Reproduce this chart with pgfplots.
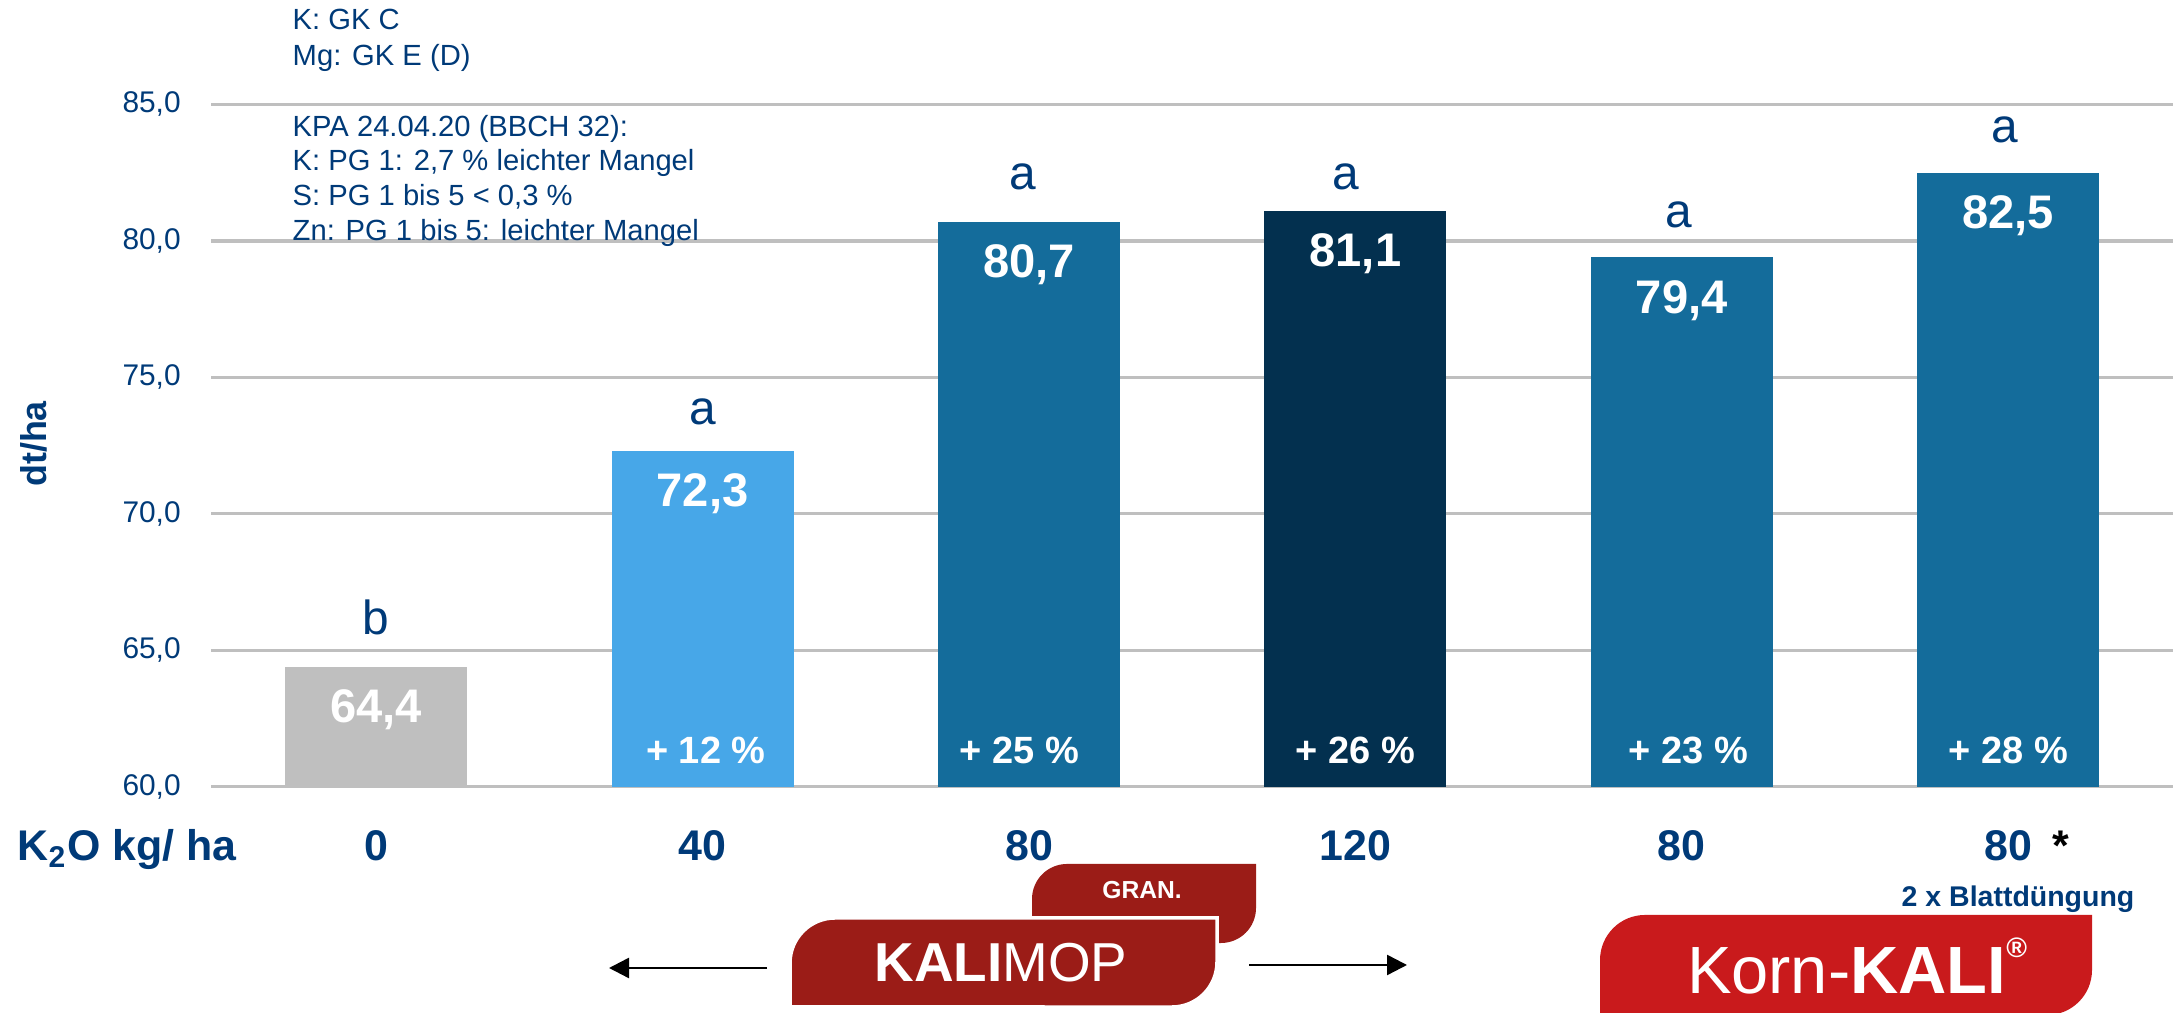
\documentclass[border=0pt]{standalone}
\usepackage{pgfplots}
\pgfplotsset{compat=1.18}
\usepackage{fontspec}
\setmainfont{Liberation Sans}
\usetikzlibrary{arrows.meta}
\definecolor{navy}{HTML}{003A78}
\definecolor{gridgray}{HTML}{BFBFBF}
\definecolor{barlight}{HTML}{47A7E8}
\definecolor{barmid}{HTML}{146C9B}
\definecolor{bardark}{HTML}{03304F}
\definecolor{mopred}{HTML}{9B1C17}
\definecolor{kornred}{HTML}{C91A1C}
\newcommand\fs[1]{\fontsize{#1}{#1}\selectfont}
\pgfplotsset{
  vals/.style={ybar, bar width=1.82cm, bar shift=0pt, draw=none,
    nodes near coords={\pgfmathprintnumber[fixed,fixed zerofill,precision=1,use comma,assume math mode=true]{\pgfplotspointmeta}},
    every node near coord/.append style={anchor=center, yshift=-0.43cm, text=white, font=\bfseries\fs{13.4}}},
  notes/.style={draw=none, mark=none, nodes near coords, point meta=explicit symbolic},
}
\begin{document}
\begin{tikzpicture}[x=0.01cm, y=0.01cm]
\useasboundingbox (0,0) rectangle (2173,1013);
\begin{axis}[
  at={(2.11cm,2.26cm)}, anchor=south west,
  scale only axis, width=19.62cm, height=6.82cm,
  xmin=-0.506, xmax=5.509, ymin=60, ymax=85,
  ytick={60,65,70,75,80,85},
  xtick={0,1,2,3,4,5}, xticklabels={0,40,80,120,80,80},
  axis line style={draw=none},
  major tick length=0pt, xtick style={draw=none}, ytick style={draw=none},
  ymajorgrids, grid style={draw=gridgray, line width=0.9pt},
  /pgf/number format/assume math mode=true,
  yticklabel style={text=navy, font=\fs{8.5}, xshift=-0.18cm,
    /pgf/number format/fixed, /pgf/number format/fixed zerofill,
    /pgf/number format/precision=1, /pgf/number format/use comma},
  xticklabel style={text=navy, font=\bfseries\fs{12.2}, anchor=base, yshift=-0.74cm},
  clip=false,
]
\addplot[vals, fill=gridgray] coordinates {(0,64.4)};
\addplot[vals, fill=barlight] coordinates {(1,72.3)};
\addplot[vals, fill=barmid] coordinates {(2,80.7)};
\addplot[vals, fill=bardark] coordinates {(3,81.1)};
\addplot[vals, fill=barmid] coordinates {(4,79.4)};
\addplot[vals, fill=barmid] coordinates {(5,82.5)};
% significance letters (label positions)
\addplot[notes, every node near coord/.append style={anchor=center, text=navy, font=\fs{13.6}}]
  coordinates {(0,66.19)[b] (1,73.75)[a] (1.98,82.36)[a] (2.97,82.36)[a] (3.99,80.97)[a] (4.99,84.07)[a]};
% relative gain
\addplot[notes, every node near coord/.append style={anchor=center, text=white, font=\bfseries\fs{10.8}}]
  coordinates {(1.01,61.35)[+ 12 \%] (1.97,61.35)[+ 25 \%] (3,61.35)[+ 26 \%] (4.02,61.35)[+ 23 \%] (5,61.35)[+ 28 \%]};
\end{axis}

% notes top left
\begin{scope}[every node/.style={anchor=base west, text=navy, font=\fs{8.3}, inner sep=0pt}]
\node at (292,983) {K: GK C};
\node at (292,947) {Mg: GK E (D)};
\node at (292,876) {KPA 24.04.20 (BBCH 32):};
\node at (292,842) {K: PG 1: 2,7 \% leichter Mangel};
\node at (292,807) {S: PG 1 bis 5 < 0,3 \%};
\node at (292,772) {Zn: PG 1 bis 5: leichter Mangel};
\end{scope}

\node[rotate=90, text=navy, font=\bfseries\fs{10.2}] at (34,569) {dt/ha};
\node[anchor=base west, inner sep=0pt, text=navy, font=\bfseries\fs{12.2}] at (17,152) {K\textsubscript{2}O kg/ ha};
\node[anchor=base, inner sep=0pt, font=\bfseries\fs{12.2}] at (2061,152) {*};
\node[anchor=base, inner sep=0pt, text=navy, font=\bfseries\fs{8.1}] at (2018,106) {2 x Blattdüngung};

% KALIMOP GRAN. logo
\fill[mopred] (1032,70) -- (1032,114) arc[start angle=180, end angle=90, radius=0.35cm]
  -- (1256,149) -- (1256,105) arc[start angle=0, end angle=-90, radius=0.35cm] -- cycle;
\node[text=white, font=\bfseries\fs{7}] at (1142,123) {GRAN.};
\filldraw[fill=mopred, draw=white, line width=1pt] (790,6) -- (790,50) arc[start angle=180, end angle=90, radius=0.45cm]
  -- (1217,95) -- (1217,51) arc[start angle=0, end angle=-90, radius=0.45cm] -- cycle;
\node[text=white, font=\fs{15.6}] at (1001,50) {\textbf{KALI}MOP};
\draw[line width=0.7pt, -{Triangle[length=0.2cm,width=0.2cm]}] (767,45) -- (609,45);
\draw[line width=0.7pt, -{Triangle[length=0.2cm,width=0.2cm]}] (1249,48) -- (1407,48);

% Korn-KALI logo
\fill[kornred] (1600,-5) -- (1600,53) arc[start angle=180, end angle=90, radius=0.45cm]
  -- (2092,98) -- (2092,43) arc[start angle=0, end angle=-90, radius=0.45cm] -- (1600,-2) -- cycle;
\node[text=white, font=\fs{19}] at (1857,47) {Korn-\textbf{KALI}\raisebox{0.55em}{\bfseries\fs{8}®}};
\end{tikzpicture}
\end{document}
